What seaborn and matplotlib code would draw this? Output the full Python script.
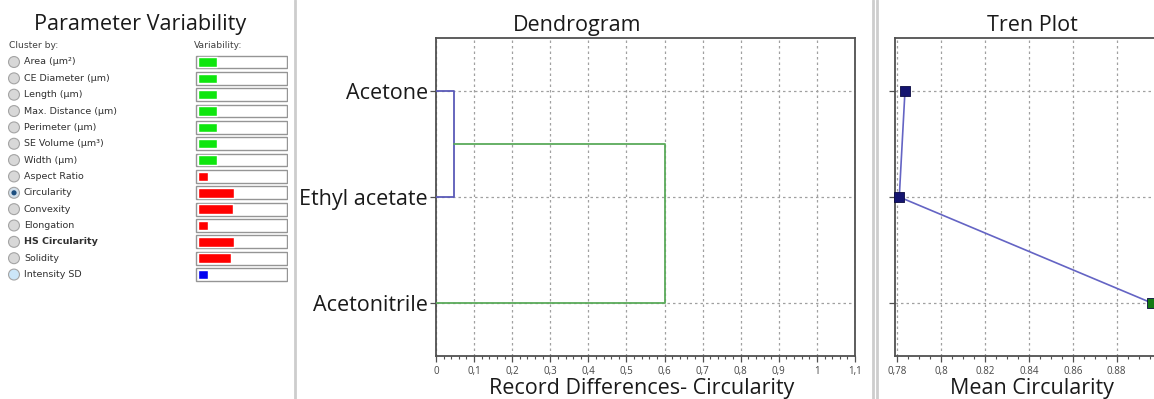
import numpy as np
import pandas as pd
import matplotlib
matplotlib.use("Agg")
import matplotlib.pyplot as plt
from matplotlib.ticker import MultipleLocator, FixedLocator
from matplotlib.lines import Line2D
import seaborn as sns

# ---- data -------------------------------------------------------------
parameters = ["Area (µm²)", "CE Diameter (µm)", "Length (µm)", "Max. Distance (µm)",
              "Perimeter (µm)", "SE Volume (µm³)", "Width (µm)", "Aspect Ratio",
              "Circularity", "Convexity", "Elongation", "HS Circularity",
              "Solidity", "Intensity SD"]
variability = [0.22, 0.22, 0.22, 0.22, 0.22, 0.22, 0.22, 0.11,
               0.41, 0.40, 0.11, 0.41, 0.37, 0.11]
variability_group = ["size"] * 7 + ["shape"] * 6 + ["intensity"]
radio_state = ["off"] * 8 + ["on"] + ["off"] * 4 + ["hover"]
bold_parameter = "HS Circularity"

samples = ["Acetone", "Ethyl acetate", "Acetonitrile"]
merge_heights = [0.048, 0.6]
merge_colors = ["#5a5ab8", "#5aaa5a"]
mean_circularity = [0.7835, 0.7809, 0.896]
sample_marker_group = ["cluster A", "cluster A", "cluster B"]

dendro_ticks = [0, 0.1, 0.2, 0.3, 0.4, 0.5, 0.6, 0.7, 0.8, 0.9, 1.0, 1.1]
dendro_ticklabels = ["0", "0,1", "0,2", "0,3", "0,4", "0,5", "0,6", "0,7",
                     "0,8", "0,9", "1", "1,1"]
tren_ticks = [0.78, 0.80, 0.82, 0.84, 0.86, 0.88]
tren_ticklabels = ["0,78", "0,8", "0.82", "0.84", "0.86", "0.88"]

# ---- style ------------------------------------------------------------
sns.set_theme(style="white")
plt.rcParams["font.family"] = ["Open Sans", "DejaVu Sans"]

W, H = 1154, 399
fig = plt.figure(figsize=(W / 100, H / 100), dpi=100)
fig.patch.set_facecolor("white")


def rect(x0, y_top, w, h):
    """pixel box -> figure fraction [left, bottom, width, height]"""
    return [x0 / W, 1 - (y_top + h) / H, w / W, h / H]


SPINE = "#505050"
TICKC = "#505050"
GRID = "#a0a0a0"
BIG = 15.5

# ---- left panel: parameter list --------------------------------------
n = len(parameters)
row0, row_step = 62.0, 16.35
top = row0 - row_step / 2
height = row_step * n
rows = np.arange(n)

ax_names = fig.add_axes(rect(0, top, 190, height))
ax_names.set_xlim(0, 190)
ax_names.set_ylim(n - 0.5, -0.5)
ax_names.axis("off")
radio_df = pd.DataFrame({"x": 14, "y": rows, "state": radio_state})
sns.scatterplot(data=radio_df, x="x", y="y", hue="state", ax=ax_names, s=62,
                palette={"off": "#d8d8d8", "on": "#d2dfea", "hover": "#cce6f8"},
                edgecolor="#a4a4a4", linewidth=0.8, legend=False, zorder=3)
sel = radio_df[radio_df["state"] == "on"]
sns.scatterplot(data=sel, x="x", y="y", ax=ax_names, s=14, color="#1d4f80",
                edgecolor="none", legend=False, zorder=4)
for i, name in enumerate(parameters):
    ax_names.text(24, i, name, va="center", ha="left", fontsize=6.8,
                  family="DejaVu Sans", color="#303030",
                  fontweight="bold" if name == bold_parameter else "normal")

fig.text(9 / W, 1 - 45 / H, "Cluster by:", fontsize=6.6, family="DejaVu Sans",
         color="#404040", va="center")
fig.text(194 / W, 1 - 45 / H, "Variability:", fontsize=6.6, family="DejaVu Sans",
         color="#404040", va="center")
fig.text(140 / W, 1 - 30 / H, "Parameter Variability", fontsize=15.6,
         ha="center", va="baseline", color="#1a1a1a")

bar_df = pd.DataFrame({"parameter": parameters, "variability": variability,
                       "group": variability_group, "full": 1.0})

ax_box = fig.add_axes(rect(195, top, 93, height))
sns.barplot(data=bar_df, x="full", y="parameter", orient="h", ax=ax_box,
            color="white", edgecolor="#959595", linewidth=1.0, width=0.78,
            saturation=1)
ax_box.set_xlim(-0.01, 1.01)
ax_box.set_ylim(n - 0.5, -0.5)
ax_box.axis("off")

ax_fill = fig.add_axes(rect(198, top, 88, height))
ax_fill.patch.set_alpha(0)
sns.barplot(data=bar_df, x="variability", y="parameter", hue="group",
            orient="h", ax=ax_fill, width=0.58, saturation=1, dodge=False,
            palette={"size": "#0ee60e", "shape": "#ff0000", "intensity": "#0000f0"},
            legend=False)
ax_fill.set_xlim(0, 1.0)
ax_fill.set_ylim(n - 0.5, -0.5)
ax_fill.axis("off")

# ---- panel separators ---------------------------------------------------
for xs in (295, 873, 877):
    fig.add_artist(Line2D([xs / W, xs / W], [0, 1], color="#cdcdcd", lw=2.0))


def style_axes(ax):
    for side in ("left", "bottom", "top", "right"):
        ax.spines[side].set_color(SPINE)
        ax.spines[side].set_linewidth(1.3)
    ax.grid(True, which="major", color=GRID, linestyle=(0, (2, 2.4)), lw=0.9)
    ax.tick_params(axis="both", which="major", direction="out", length=4,
                   width=0.9, color=TICKC, labelcolor="#454545", labelsize=7,
                   bottom=True, left=True)
    ax.tick_params(axis="x", which="minor", direction="out", length=2.5,
                   width=0.8, color=TICKC, bottom=True)
    ax.set_ylim(len(samples) - 0.5, -0.5)
    ax.yaxis.set_major_locator(FixedLocator(range(len(samples))))


# ---- dendrogram -------------------------------------------------------
ax_d = fig.add_axes(rect(436, 38, 419, 318))
style_axes(ax_d)
ax_d.set_xlim(0, 1.1)
ax_d.set_xticks(dendro_ticks)
ax_d.set_xticklabels(dendro_ticklabels)
ax_d.xaxis.set_minor_locator(MultipleLocator(0.02))
ax_d.set_yticks(range(len(samples)))
ax_d.set_yticklabels(samples, fontsize=BIG, color="#1a1a1a")
ax_d.tick_params(axis="y", pad=2)

# link 1: Acetone + Ethyl acetate
h1, h2 = merge_heights
ax_d.plot([0, h1, h1, 0], [0, 0, 1, 1], color=merge_colors[0], lw=1.3, zorder=3)
# link 2: (Acetone, Ethyl acetate) + Acetonitrile
ax_d.plot([h1, h2, h2, 0], [0.5, 0.5, 2, 2], color=merge_colors[1], lw=1.3, zorder=3)

ax_d.text(0.3365, 1.022, "Dendrogram", transform=ax_d.transAxes, ha="center",
          va="baseline", fontsize=BIG, color="#1a1a1a")
ax_d.set_xlabel("Record Differences- Circularity", fontsize=BIG, color="#1a1a1a")
ax_d.xaxis.label.set_va("baseline")
ax_d.xaxis.set_label_coords(0.49, (356 - 394) / 318)
ax_d.set_ylabel("")

# ---- tren plot --------------------------------------------------------
tren_w = 265
ax_t = fig.add_axes(rect(895, 38, tren_w, 318))
style_axes(ax_t)
px_per_unit = 2194.0
x_left = 0.78 - 2.3 / px_per_unit
ax_t.set_xlim(x_left, x_left + tren_w / px_per_unit)
ax_t.set_xticks(tren_ticks)
ax_t.set_xticklabels(tren_ticklabels)
ax_t.xaxis.set_minor_locator(MultipleLocator(0.005))
ax_t.set_yticks(range(len(samples)))
ax_t.set_yticklabels([])

tren_df = pd.DataFrame({"mean": mean_circularity, "pos": range(len(samples)),
                        "group": sample_marker_group})
sns.lineplot(data=tren_df, x="mean", y="pos", sort=False, estimator=None,
             color="#6464c4", lw=1.2, ax=ax_t, zorder=3)
sns.scatterplot(data=tren_df, x="mean", y="pos", hue="group", marker="s", s=48,
                palette={"cluster A": "#141470", "cluster B": "#137a13"},
                edgecolor="#0a0a40", linewidth=0.6, legend=False, ax=ax_t,
                zorder=4, clip_on=False)
ax_t.set_ylim(len(samples) - 0.5, -0.5)

ax_t.text((1032 - 895) / tren_w, 1.022, "Tren Plot", transform=ax_t.transAxes,
          ha="center", va="baseline", fontsize=BIG, color="#1a1a1a")
ax_t.set_xlabel("Mean Circularity", fontsize=BIG, color="#1a1a1a")
ax_t.xaxis.label.set_va("baseline")
ax_t.xaxis.set_label_coords((1032 - 895) / tren_w, (356 - 394) / 318)
ax_t.set_ylabel("")

fig.savefig("out.png", dpi=100, facecolor="white")
